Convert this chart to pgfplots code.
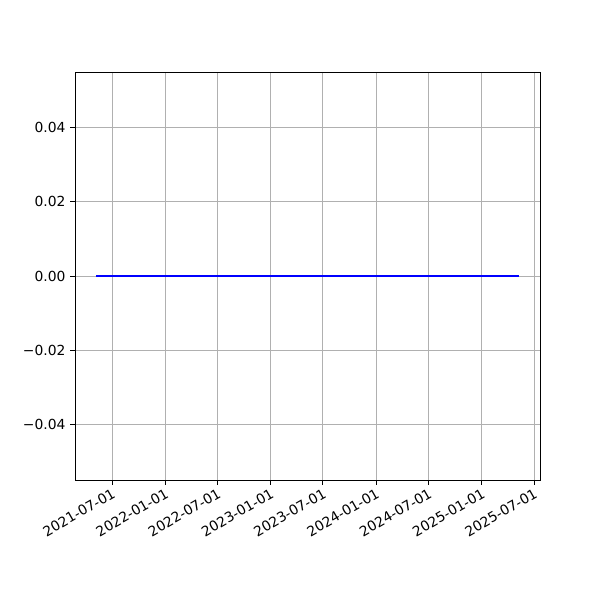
\documentclass[border=0pt]{standalone}
\usepackage{pgfplots}
\pgfplotsset{compat=1.18}
\usepackage{fontspec}
\setmainfont{DejaVu Sans}
\definecolor{gridgray}{HTML}{B0B0B0}
\begin{document}
\begin{tikzpicture}
\path[use as bounding box] (-56.25pt,-90pt) rectangle (393.75pt,360pt);
\begin{axis}[
  at={(0,0)}, anchor=south west,
  scale only axis,
  width=348.75pt, height=306pt,
  xmin=52.9, xmax=1662.8,
  ymin=-0.055, ymax=0.055,
  xtick={181,365,546,730,911,1095,1277,1461,1642},
  xticklabels={2021-07-01,2022-01-01,2022-07-01,2023-01-01,2023-07-01,2024-01-01,2024-07-01,2025-01-01,2025-07-01},
  ytick={-0.04,-0.02,0,0.02,0.04},
  yticklabels={−0.04,−0.02,0.00,0.02,0.04},
  xticklabel style={rotate=30, anchor=north east, font=\fontsize{10.4}{12.4}\selectfont, inner sep=1.5pt},
  yticklabel style={font=\fontsize{10.4}{12.4}\selectfont},
  tick align=outside,
  major tick length=3.6pt,
  tick style={black, line width=0.6pt},
  xtick pos=bottom, ytick pos=left,
  grid=major,
  grid style={gridgray, line width=0.6pt},
  axis line style={black, line width=0.6pt},
  scaled y ticks=false,
]
\addplot[blue, line width=1.4pt, no marks] coordinates {(126,0) (1590,0)};
\end{axis}
\end{tikzpicture}
\end{document}
